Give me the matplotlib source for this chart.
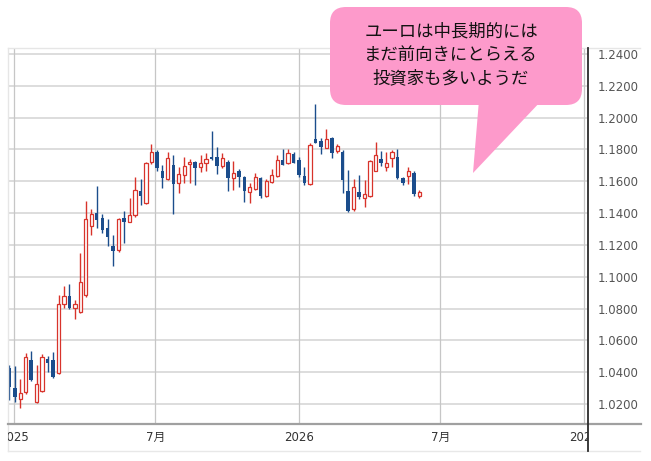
import matplotlib
matplotlib.use("Agg")
import matplotlib.pyplot as plt
import matplotlib.dates as mdates
from matplotlib.patches import FancyBboxPatch, Polygon
from matplotlib.lines import Line2D
from matplotlib.transforms import Affine2D, Bbox, TransformedBbox, blended_transform_factory
import numpy as np
import pandas as pd

plt.rcParams['font.family'] = ['Noto Sans CJK JP', 'DejaVu Sans']

# weekly EUR/USD candles
weeks = pd.date_range("2024-12-26", periods=76, freq="7D")
opens = [1.0426, 1.0301, 1.0232, 1.0276, 1.0477, 1.0213, 1.0282, 1.0483, 1.0477, 1.0395,
         1.0829, 1.0879, 1.0804, 1.0778, 1.0885, 1.1319, 1.1401, 1.1369, 1.1306, 1.1193,
         1.1168, 1.1369, 1.1344, 1.1388, 1.1539, 1.1464, 1.1721, 1.1784, 1.1665, 1.1614,
         1.1702, 1.1589, 1.1639, 1.1709, 1.1721, 1.1690, 1.1715, 1.1753, 1.1753, 1.1696,
         1.1721, 1.1621, 1.1665, 1.1627, 1.1533, 1.1551, 1.1621, 1.1507, 1.1595, 1.1633,
         1.1734, 1.1715, 1.1771, 1.1734, 1.1633, 1.1583, 1.1866, 1.1853, 1.1809, 1.1872,
         1.1790, 1.1784, 1.1539, 1.1426, 1.1533, 1.1495, 1.1507, 1.1665, 1.1740, 1.1690,
         1.1746, 1.1753, 1.1621, 1.1633, 1.1652, 1.1507]
highs = [1.0445, 1.0439, 1.0357, 1.0521, 1.0533, 1.0445, 1.0514, 1.0502, 1.0527, 1.0885,
         1.0942, 1.0954, 1.0854, 1.1149, 1.1476, 1.1426, 1.1570, 1.1394, 1.1363, 1.1262,
         1.1369, 1.1413, 1.1495, 1.1627, 1.1614, 1.1721, 1.1834, 1.1797, 1.1702, 1.1784,
         1.1765, 1.1690, 1.1753, 1.1740, 1.1727, 1.1765, 1.1778, 1.1916, 1.1815, 1.1778,
         1.1734, 1.1727, 1.1677, 1.1633, 1.1589, 1.1652, 1.1627, 1.1614, 1.1677, 1.1765,
         1.1803, 1.1803, 1.1784, 1.1753, 1.1690, 1.1841, 1.2086, 1.1872, 1.1929, 1.1878,
         1.1834, 1.1797, 1.1671, 1.1614, 1.1639, 1.1608, 1.1734, 1.1847, 1.1790, 1.1784,
         1.1797, 1.1803, 1.1627, 1.1690, 1.1665, 1.1545]
lows = [1.0225, 1.0213, 1.0175, 1.0263, 1.0345, 1.0206, 1.0276, 1.0401, 1.0364, 1.0389,
        1.0804, 1.0797, 1.0734, 1.0772, 1.0873, 1.1262, 1.1306, 1.1275, 1.1193, 1.1068,
        1.1156, 1.1212, 1.1344, 1.1376, 1.1451, 1.1457, 1.1709, 1.1665, 1.1558, 1.1608,
        1.1394, 1.1526, 1.1589, 1.1589, 1.1577, 1.1658, 1.1665, 1.1734, 1.1646, 1.1683,
        1.1539, 1.1545, 1.1564, 1.1470, 1.1464, 1.1545, 1.1495, 1.1501, 1.1589, 1.1627,
        1.1702, 1.1709, 1.1715, 1.1627, 1.1577, 1.1577, 1.1841, 1.1771, 1.1809, 1.1746,
        1.1778, 1.1526, 1.1407, 1.1413, 1.1489, 1.1438, 1.1501, 1.1665, 1.1696, 1.1665,
        1.1690, 1.1614, 1.1577, 1.1583, 1.1507, 1.1495]
closes = [1.0307, 1.0244, 1.0269, 1.0496, 1.0351, 1.0326, 1.0496, 1.0458, 1.0370, 1.0829,
          1.0879, 1.0804, 1.0829, 1.0967, 1.1363, 1.1394, 1.1357, 1.1294, 1.1250, 1.1162,
          1.1363, 1.1344, 1.1388, 1.1545, 1.1507, 1.1715, 1.1784, 1.1683, 1.1621, 1.1746,
          1.1583, 1.1646, 1.1696, 1.1721, 1.1683, 1.1715, 1.1740, 1.1740, 1.1696, 1.1746,
          1.1621, 1.1652, 1.1627, 1.1539, 1.1564, 1.1627, 1.1507, 1.1602, 1.1639, 1.1734,
          1.1702, 1.1778, 1.1715, 1.1639, 1.1589, 1.1828, 1.1841, 1.1815, 1.1866, 1.1778,
          1.1822, 1.1608, 1.1413, 1.1564, 1.1501, 1.1520, 1.1727, 1.1765, 1.1715, 1.1715,
          1.1784, 1.1621, 1.1589, 1.1665, 1.1520, 1.1533]

price_ticks = [1.02, 1.04, 1.06, 1.08, 1.10, 1.12, 1.14, 1.16, 1.18, 1.20, 1.22, 1.24]
date_ticks = ["2025-01-01", "2025-07-01", "2026-01-01", "2026-07-01", "2027-01-01"]
date_labels = ["2025", "7月", "2026", "7月", "2027"]
note_lines = ["ユーロは中長期的には", "まだ前向きにとらえる", "投資家も多いようだ"]

W, H = 651, 461
RED = '#d8332b'
BLUE = '#1b4d8c'

fig = plt.figure(figsize=(W / 100, H / 100), dpi=100)
# pixel coords, origin top-left
px = Affine2D().scale(1 / W, -1 / H).translate(0, 1) + fig.transFigure

ax = fig.add_axes([8 / W, 1 - 424 / H, 580 / W, 376 / H])
ax.set_facecolor('white')

x = mdates.date2num(weeks)
o = np.array(opens)
h = np.array(highs)
l = np.array(lows)
c = np.array(closes)
up = c >= o

ax.vlines(x[up], l[up], h[up], color=RED, lw=1, zorder=3)
ax.vlines(x[~up], l[~up], h[~up], color=BLUE, lw=1, zorder=3)
ax.bar(x[up], (c - o)[up], bottom=o[up], width=4.2, facecolor='white',
       edgecolor=RED, lw=0.9, zorder=4)
ax.bar(x[~up], (o - c)[~up], bottom=c[~up], width=4.4, color=BLUE, lw=0, zorder=4)

for p in price_ticks:
    ax.axhline(p, color='#dddddd', lw=1.4, zorder=1)
for d in date_ticks:
    ax.axvline(mdates.date2num(pd.Timestamp(d)), color='#c6c6c6', lw=0.9, zorder=1)

d0 = mdates.date2num(pd.Timestamp("2025-01-01"))
d1 = mdates.date2num(pd.Timestamp("2027-01-01"))
ax.set_xlim(d0 - 7.7, d1 + 5.1)
ax.set_ylim(1.0074, 1.2438)

for s in ax.spines.values():
    s.set_visible(False)
ax.set_xticks([])
ax.yaxis.tick_right()
ax.set_yticks(price_ticks)
ax.set_yticklabels([f"{p:.4f}" for p in price_ticks])
ax.tick_params(axis='y', length=0, pad=7, labelsize=8.5, labelcolor='#555555')
for lbl in ax.get_yticklabels():
    lbl.set_fontfamily('DejaVu Sans')

# date labels, clipped to the plot width like the original
clip = TransformedBbox(Bbox([[8 / W, 0], [588 / W, 1]]), fig.transFigure)
xt = blended_transform_factory(ax.transData, fig.transFigure)
for d, lab in zip(date_ticks, date_labels):
    t = fig.text(mdates.date2num(pd.Timestamp(d)), 1 - 437 / H, lab, transform=xt,
                 ha='center', va='center', fontsize=8.5, color='#333333',
                 family=['DejaVu Sans', 'Noto Sans CJK JP'])
    t.set_clip_on(True)
    t.set_clip_box(clip)

# frame lines
fig.add_artist(Line2D([8, 640], [48, 48], transform=px, color='#e6e6e6', lw=1))
fig.add_artist(Line2D([8, 8], [48, 451], transform=px, color='#e6e6e6', lw=1))
fig.add_artist(Line2D([8, 640], [451, 451], transform=px, color='#e8e8e8', lw=1))
fig.add_artist(Line2D([8, 641], [424, 424], transform=px, color='#a0a0a0', lw=1.6))
fig.add_artist(Line2D([588, 588], [48, 451], transform=px, color='#2b2b2b', lw=1.3))

# speech bubble
PINK = '#fd9acb'
fig.add_artist(FancyBboxPatch((330, 7), 252, 98, boxstyle="round,pad=0,rounding_size=16",
                              transform=px, fc=PINK, ec='none', zorder=10))
fig.add_artist(Polygon([(479, 100), (542, 100), (473, 173)], closed=True,
                       transform=px, fc=PINK, ec='none', zorder=10))
for i, line in enumerate(note_lines):
    fig.text(451, 31 + i * 23.5, line, transform=px, ha='center', va='center',
             fontsize=12.5, color='#111111', zorder=11)

fig.savefig('out.png', dpi=100)
